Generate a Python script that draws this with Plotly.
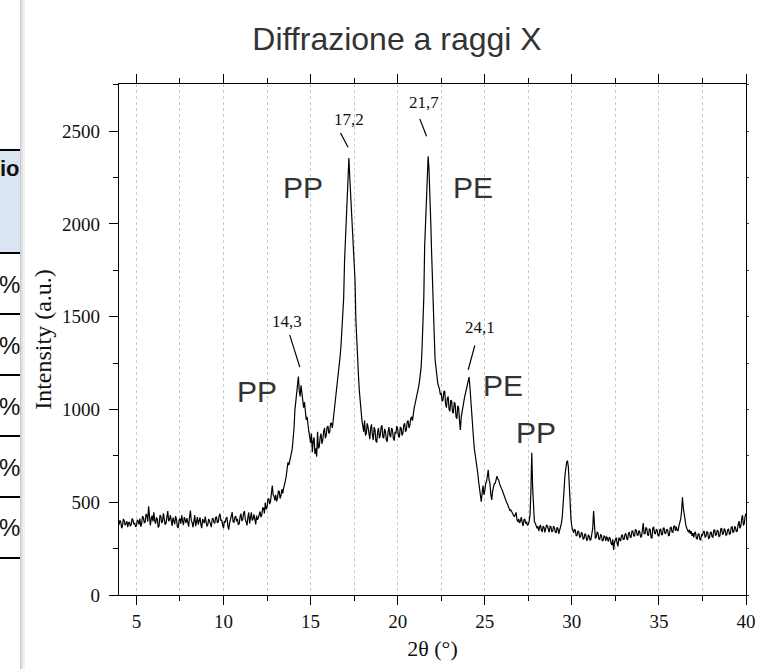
import plotly.graph_objects as go

# ---------------- data ----------------
theta_start = 4.0
theta_step = 0.05
intensity = [
    # 4.00 - 4.95
    378, 402, 395, 360, 372, 410, 401, 376, 385, 398, 366, 390, 392, 371, 380, 412, 404, 382, 388, 369,
    # 5
    371, 405, 399, 380, 412, 368, 384, 425, 418, 390, 392, 436, 430, 395, 478, 402, 375, 410, 428, 396,
    # 6
    446, 400, 385, 418, 410, 364, 372, 430, 425, 388, 398, 440, 416, 379, 387, 420, 452, 398, 405, 430,
    # 7
    396, 372, 418, 390, 381, 425, 407, 368, 362, 405, 412, 384, 430, 398, 377, 420, 402, 388, 415, 375,
    # 8
    368, 420, 455, 402, 390, 365, 412, 430, 371, 395, 420, 380, 398, 418, 381, 360, 409, 392, 387, 422,
    # 9
    402, 370, 379, 410, 398, 375, 366, 408, 415, 392, 386, 418, 420, 388, 395, 426, 438, 400, 405, 378,
    # 10
    360, 398, 392, 415, 418, 372, 352, 388, 404, 430, 446, 395, 392, 418, 425, 397, 410, 380, 383, 420,
    # 11
    438, 402, 405, 440, 452, 410, 398, 375, 420, 445, 386, 412, 445, 402, 410, 435, 392, 380, 428, 405,
    # 12
    415, 440, 450, 420, 432, 470, 468, 440, 498, 462, 470, 515, 520, 490, 505, 548, 590, 540, 532, 510,
    # 13
    540, 505, 522, 560, 558, 520, 535, 570, 548, 575, 590, 615, 640, 690, 715, 700, 730, 745, 765, 790,
    # 14
    830, 900, 998, 1050, 1088, 1140, 1177, 1100, 1070, 1130, 1090, 1050, 1010, 1040, 1000, 944, 960, 900, 880, 854,
    # 15
    820, 870, 770, 830, 850, 760, 790, 746, 880, 790, 800, 850, 870, 815, 835, 880, 900, 845, 860, 905,
    # 16
    910, 870, 880, 925, 926, 900, 944, 975, 1010, 1050, 1090, 1140, 1180, 1240, 1290, 1350, 1420, 1510, 1600, 1800,
    # 17
    1900, 2000, 2113, 2238, 2355, 2250, 2148, 2040, 1933, 1850, 1790, 1700, 1483, 1360, 1260, 1180, 1100, 1030, 980, 940,
    # 18
    910, 880, 940, 860, 870, 925, 905, 850, 840, 900, 920, 860, 835, 905, 890, 830, 822, 880, 900, 845,
    # 19
    860, 905, 915, 850, 845, 895, 880, 836, 826, 880, 905, 860, 850, 900, 890, 845, 832, 880, 870, 910,
    # 20
    895, 855, 850, 905, 900, 860, 872, 915, 925, 880, 890, 935, 940, 900, 915, 950, 960, 940, 990, 1010,
    # 21
    1030, 1050, 1065, 1090, 1120, 1150, 1180, 1231, 1330, 1447, 1600, 1879, 1980, 2113, 2250, 2364, 2290, 2184, 2010, 1843,
    # 22
    1650, 1537, 1400, 1268, 1210, 1170, 1142, 1125, 1110, 1080, 1088, 1045, 1050, 1095, 1100, 1030, 1010, 1060, 1070, 1000,
    # 23
    990, 1050, 1045, 985, 980, 1040, 1030, 960, 950, 1020, 1010, 940, 890, 960, 990, 1030, 1040, 1070, 1090, 1110,
    # 24
    1120, 1150, 1174, 1120, 1034, 960, 908, 850, 790, 760, 728, 690, 656, 610, 566, 530, 503, 550, 590, 540,
    # 25
    560, 600, 610, 640, 674, 620, 600, 540, 512, 560, 585, 600, 602, 630, 640, 625, 620, 600, 580, 575,
    # 26
    566, 550, 540, 520, 512, 500, 490, 480, 470, 455, 458, 445, 440, 430, 422, 435, 445, 405, 395, 410,
    # 27
    388, 400, 420, 390, 372, 405, 410, 385, 395, 375, 380, 398, 430, 560, 767, 580, 430, 395, 388, 370,
    # 28
    360, 372, 345, 365, 378, 350, 340, 372, 365, 338, 352, 378, 372, 345, 338, 370, 368, 340, 345, 372,
    # 29
    362, 340, 335, 365, 358, 330, 346, 372, 386, 420, 476, 560, 640, 690, 715, 724, 690, 600, 476, 410,
    # 30
    368, 345, 335, 352, 350, 318, 322, 345, 340, 312, 314, 338, 332, 300, 305, 330, 325, 296, 298, 322,
    # 31
    318, 296, 300, 330, 360, 453, 330, 305, 312, 338, 335, 302, 300, 325, 322, 290, 295, 318, 315, 292,
    # 32
    315, 296, 288, 312, 305, 280, 270, 300, 243, 285, 298, 310, 278, 262, 310, 295, 290, 318, 325, 300,
    # 33
    300, 325, 332, 305, 296, 330, 340, 312, 310, 345, 345, 318, 318, 352, 350, 322, 322, 348, 338, 312,
    # 34
    315, 350, 388, 330, 330, 362, 360, 325, 320, 355, 352, 310, 305, 362, 365, 332, 330, 352, 348, 320,
    # 35
    318, 350, 356, 325, 325, 360, 360, 330, 334, 355, 350, 320, 322, 362, 365, 340, 338, 370, 372, 345,
    # 36
    368, 350, 345, 372, 390, 410, 450, 527, 470, 430, 404, 375, 360, 350, 338, 352, 330, 345, 318, 335,
    # 37
    310, 335, 338, 305, 302, 328, 330, 300, 297, 325, 322, 340, 345, 312, 315, 342, 338, 305, 308, 336,
    # 38
    340, 315, 312, 348, 352, 322, 325, 350, 345, 315, 318, 355, 360, 328, 330, 358, 350, 322, 325, 352,
    # 39
    355, 328, 330, 365, 368, 338, 340, 370, 362, 340, 345, 380, 398, 360, 370, 410, 430, 375, 385, 425,
    # 40.00
    440,
]
two_theta = [round(theta_start + theta_step * i, 2) for i in range(len(intensity))]

peak_labels = ["17,2", "21,7", "14,3", "24,1"]
phase_labels = ["PP", "PE", "PP", "PE", "PP"]
table_header = "io"
table_cells = ["%", "%", "%", "%", "%"]

# ---------------- figure geometry ----------------
W, H = 761, 669
ML, MR, MT, MB = 119, 15, 84, 74
PW, PH = W - ML - MR, H - MT - MB


def pxx(xp):
    return (xp - ML) / PW


def pyy(yp):
    return (H - MB - yp) / PH


SERIF = "Liberation Serif"
SANS = "Liberation Sans"

fig = go.Figure()
fig.add_trace(go.Scatter(
    x=two_theta, y=intensity, mode="lines",
    line=dict(color="#000000", width=1.2),
    showlegend=False, hoverinfo="skip",
))
fig.add_trace(go.Scatter(x=[None], y=[None], yaxis="y2", showlegend=False, hoverinfo="skip"))

shapes = []
annotations = []

# ----- leader lines for peak labels (data coords) -----
leaders = [
    (16.72, 2490, 17.15, 2413),
    (21.27, 2566, 21.66, 2472),
    (13.80, 1402, 14.38, 1228),
    (24.43, 1345, 24.05, 1214),
]
for x0, y0, x1, y1 in leaders:
    shapes.append(dict(type="line", xref="x", yref="y", x0=x0, y0=y0, x1=x1, y1=y1,
                       line=dict(color="#000000", width=1.2)))

peak_pos = [(17.19, 2562), (21.50, 2654), (13.63, 1472), (24.75, 1440)]
for (x, y), t in zip(peak_pos, peak_labels):
    annotations.append(dict(x=x, y=y, xref="x", yref="y", text=t, showarrow=False,
                            font=dict(family=SERIF, size=17, color="#111111"),
                            xanchor="center", yanchor="middle"))

phase_pos = [(14.55, 2195), (24.32, 2195), (11.95, 1095), (26.04, 1127), (27.93, 874)]
for (x, y), t in zip(phase_pos, phase_labels):
    annotations.append(dict(x=x, y=y, xref="x", yref="y", text=t, showarrow=False,
                            font=dict(family=SANS, size=30, color="#333333"),
                            xanchor="center", yanchor="middle"))

# ----- left page fragment (cropped table) -----
shapes.append(dict(type="rect", xref="paper", yref="paper",
                   x0=pxx(0), x1=pxx(20), y0=pyy(253), y1=pyy(150),
                   fillcolor="#dbe5f1", line=dict(width=0), layer="below"))
for yl in [150, 253, 314, 375, 436, 497, 558]:
    shapes.append(dict(type="line", xref="paper", yref="paper",
                       x0=pxx(0), x1=pxx(20), y0=pyy(yl), y1=pyy(yl),
                       line=dict(color="#000000", width=2)))
# shadow at page edge
for x0, x1, c in [(20, 21.5, "#c8c8c8"), (21.5, 23, "#e2e2e2"), (23, 25, "#f2f2f2")]:
    shapes.append(dict(type="rect", xref="paper", yref="paper",
                       x0=pxx(x0), x1=pxx(x1), y0=pyy(H), y1=pyy(0),
                       fillcolor=c, line=dict(width=0)))

annotations.append(dict(x=pxx(-2), y=pyy(168), xref="paper", yref="paper", text="<b>%s</b>" % table_header,
                        showarrow=False, xanchor="left", yanchor="middle",
                        font=dict(family=SANS, size=22, color="#111111")))
for yc, t in zip([284, 345, 406, 467, 527], table_cells):
    annotations.append(dict(x=pxx(-3), y=pyy(yc), xref="paper", yref="paper", text=t,
                            showarrow=False, xanchor="left", yanchor="middle",
                            font=dict(family=SANS, size=24, color="#111111")))

fig.update_layout(
    width=W, height=H,
    margin=dict(l=ML, r=MR, t=MT, b=MB, pad=0, autoexpand=False),
    paper_bgcolor="#ffffff", plot_bgcolor="#ffffff",
    hovermode=False,
    title=dict(text="Diffrazione a raggi X", x=397 / W, xref="container", xanchor="center",
               y=1 - 39 / H, yref="container", yanchor="middle",
               font=dict(family=SANS, size=32, color="#333333")),
    xaxis=dict(
        range=[4, 40], tick0=0, dtick=5, automargin=False,
        showline=True, linecolor="#000000", linewidth=1.3, mirror="ticks",
        ticks="outside", ticklen=9, tickwidth=1, tickcolor="#000000",
        showgrid=True, gridcolor="#c8c8c8", griddash="dot", gridwidth=1,
        zeroline=False,
        minor=dict(dtick=2.5, tick0=0, ticks="outside", ticklen=5, tickcolor="#000000",
                   showgrid=True, gridcolor="#c8c8c8", griddash="dot", gridwidth=1),
        tickfont=dict(family=SERIF, size=19, color="#111111"),
        title=dict(text="2θ (°)", font=dict(family=SERIF, size=22, color="#111111"), standoff=9),
    ),
    yaxis=dict(
        range=[0, 2754], tick0=0, dtick=500, automargin=False,
        showline=True, linecolor="#000000", linewidth=1.3, mirror=True,
        ticks="outside", ticklen=9, tickwidth=1, tickcolor="#000000",
        ticklabelstandoff=5,
        showgrid=False, zeroline=False,
        minor=dict(dtick=250, tick0=0, ticks="outside", ticklen=5, tickcolor="#000000", showgrid=False),
        tickfont=dict(family=SERIF, size=19, color="#111111"),
        title=dict(text="Intensity (a.u.)", font=dict(family=SERIF, size=24, color="#111111"), standoff=3),
    ),
    yaxis2=dict(
        range=[0, 2754], overlaying="y", side="right", anchor="x", automargin=False,
        tick0=0, dtick=250, ticks="outside", ticklen=2, tickcolor="#444444",
        showticklabels=False, showgrid=False, zeroline=False, showline=False,
    ),
    shapes=shapes,
    annotations=annotations,
)

fig.write_html("out.html", config={"displayModeBar": False},
               post_script="document.body.style.margin='0';document.body.style.overflow='hidden';")
